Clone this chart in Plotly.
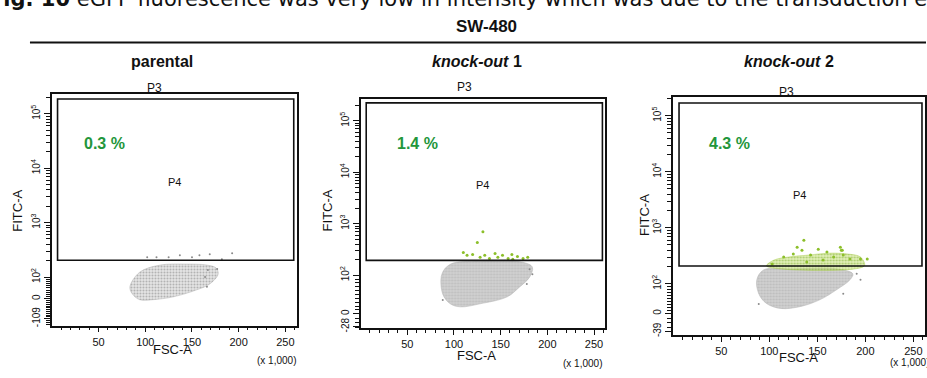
import numpy as np
import plotly.graph_objects as go

W, H = 927, 378

# ---------------- data ----------------
panel_titles = ["parental", "<i>knock-out</i> 1", "<i>knock-out</i> 2"]
positive_pct = ["0.3 %", "1.4 %", "4.3 %"]
fitc_axis_min = [-109, -28, -39]          # lowest labelled FITC value per plot
x_tick_vals = [50, 100, 150, 200, 250]    # FSC-A (x 1,000)

# P4 gate (FSC-A in thousands, FITC-A raw)
gate_fsc = [6, 259]
gate_fitc_top = [187000, 222000, 169000]
gate_fitc_low = [204, 194, 208]

# outline of the main (negative) population, FSC-A (x1000) / FITC-A
cloud_fsc = [
    [83.5, 94, 116, 144, 166, 176, 178, 169, 155, 130, 108, 94, 86],
    [87, 96, 128, 174, 184, 181, 170, 157, 128, 107, 96, 88],
    [87, 94, 125, 170, 187, 184, 170, 153, 133, 112, 97, 89],
]
cloud_fitc = [
    [55, 123, 166, 173, 166, 146, 113, 68, 41, 9, -5, -5, 23],
    [104, 163, 186, 178, 143, 95, 69, 44, 26, 18, 26, 51],
    [118, 177, 185, 185, 151, 118, 80, 47, 24, 17, 34, 67],
]

# scattered grey events
grey_fsc = [
    [102, 112, 137, 150, 169, 193, 182, 167, 164, 177, 166, 125, 158],
    [181, 184, 178, 88],
    [191, 195, 177, 89],
]
grey_fitc = [
    [231, 231, 251, 231, 262, 273, 212, 134, 100, 140, 55, 231, 251],
    [130, 104, 77, 36],
    [151, 118, 67, 32],
]

# FITC-positive (eGFP) events above the gate
green_fsc = [
    [],
    [110, 114, 120, 128, 133, 138, 144, 147, 152, 158, 162, 163, 168, 174, 179, 125, 131],
    [115, 125, 134, 143, 151, 160, 167, 175, 177, 184, 195, 103, 139, 156, 129, 174, 136, 176, 202],
]
green_fitc = [
    [],
    [277, 243, 253, 222, 243, 212, 265, 222, 243, 212, 253, 203, 232, 212, 222, 431, 701],
    [301, 340, 399, 326, 416, 368, 301, 399, 326, 277, 277, 226, 245, 266, 451, 451, 600, 399, 277],
]
# dense positive band just above the gate in knock-out 2
band_fsc = [97, 105, 120, 141, 162, 182, 195, 199]
band_fitc = [208, 266, 301, 326, 353, 340, 301, 208]

# ---------------- axis / layout settings ----------------
FSC_MAX = 262.144
fitc_axis_max = [231000, 265000, 216000]
fitc_axis_floor = [-147, -32, -48]
lin_decades = [0.40, 0.75, 0.53]          # display height of 0..100, in decades
neg_slope = [0.00334, 0.0089, 0.00813]    # decades per unit below zero
boxes = [(52, 95, 297, 329), (361, 100, 606, 332), (674, 98, 926, 339)]
FONT = "Liberation Sans, Arial, sans-serif"
GREEN_TXT = "#23963b"


def fitc_scale(v, i):
    """Log above 100, linear through zero below (biexponential-style display)."""
    v = np.atleast_1d(np.asarray(v, dtype=float))
    r, q = lin_decades[i], neg_slope[i]
    out = np.empty_like(v)
    hi = v >= 100
    mid = (v >= 0) & ~hi
    lo = v < 0
    out[hi] = np.log10(v[hi])
    out[mid] = 2 - r * (100 - v[mid]) / 100
    out[lo] = 2 - r + v[lo] * q
    return out


def px(x):
    return x / W


def py(y):
    return 1 - y / H


fig = go.Figure()
annotations = []
shapes = []

cloud_styles = [
    dict(bg="rgba(212,212,212,0.6)", fg="#7d7d7d", line="rgba(150,150,150,0.35)"),
    dict(bg="rgba(200,200,200,0.85)", fg="#a9a9a9", line="rgba(180,180,180,0.5)"),
    dict(bg="rgba(200,200,200,0.85)", fg="#a6a6a6", line="rgba(180,180,180,0.5)"),
]

for i in range(3):
    xa = "x" if i == 0 else f"x{i+1}"
    ya = "y" if i == 0 else f"y{i+1}"
    xk = "xaxis" if i == 0 else f"xaxis{i+1}"
    yk = "yaxis" if i == 0 else f"yaxis{i+1}"
    x0, y0, x1, y1 = boxes[i]
    st = cloud_styles[i]

    # main population
    cy = fitc_scale(cloud_fitc[i], i)
    fig.add_trace(go.Scatter(
        x=list(cloud_fsc[i]) + [cloud_fsc[i][0]], y=list(cy) + [cy[0]],
        mode="lines", fill="toself", xaxis=xa, yaxis=ya,
        line=dict(color=st["line"], width=1, shape="spline", smoothing=1.0),
        fillcolor=st["bg"],
        fillpattern=dict(shape=".", fgcolor=st["fg"], bgcolor=st["bg"], size=3, solidity=0.35),
        hoverinfo="skip", showlegend=False))

    # scattered grey events
    fig.add_trace(go.Scatter(
        x=grey_fsc[i], y=fitc_scale(grey_fitc[i], i), mode="markers", xaxis=xa, yaxis=ya,
        marker=dict(size=2, color="#8a8a8a"), hoverinfo="skip", showlegend=False))

    # dense positive band (knock-out 2)
    if i == 2:
        by = fitc_scale(band_fitc, i)
        fig.add_trace(go.Scatter(
            x=band_fsc + [band_fsc[0]], y=list(by) + [by[0]],
            mode="lines", fill="toself", xaxis=xa, yaxis=ya,
            line=dict(color="rgba(160,200,60,0.4)", width=1, shape="spline"),
            fillcolor="rgba(200,225,120,0.55)",
            fillpattern=dict(shape=".", fgcolor="#6fa61e", bgcolor="rgba(205,228,130,0.55)",
                             size=3, solidity=0.4),
            hoverinfo="skip", showlegend=False))

    if green_fsc[i]:
        fig.add_trace(go.Scatter(
            x=green_fsc[i], y=fitc_scale(green_fitc[i], i), mode="markers", xaxis=xa, yaxis=ya,
            marker=dict(size=3, color="#8cbf2a"), hoverinfo="skip", showlegend=False))

    # P4 gate
    shapes.append(dict(type="rect", xref=xa, yref=ya,
                       x0=gate_fsc[0], x1=gate_fsc[1],
                       y0=float(fitc_scale(gate_fitc_low[i], i)[0]),
                       y1=float(fitc_scale(gate_fitc_top[i], i)[0]),
                       line=dict(color="#111111", width=1.6)))

    # axes
    y_major_raw = [fitc_axis_min[i], 0, 1e2, 1e3, 1e4, 1e5]
    y_major_txt = [str(fitc_axis_min[i]), "0", "10<sup>2</sup>", "10<sup>3</sup>",
                   "10<sup>4</sup>", "10<sup>5</sup>"]
    y_minor_raw = ([m * 10 ** k for k in (2, 3, 4) for m in range(2, 10)] + [2e5]
                   + list(range(10, 100, 10))
                   + [v for v in range(-10, -200, -10)
                      if v > fitc_axis_floor[i] and v != fitc_axis_min[i]])
    fig.layout[xk] = dict(
        domain=[px(x0), px(x1)], anchor=ya, range=[0, FSC_MAX],
        showline=True, linecolor="#111111", linewidth=1.6, mirror=True,
        ticks="outside", ticklen=5, tickwidth=1.3, tickcolor="#111111",
        tickvals=x_tick_vals, ticktext=[str(v) for v in x_tick_vals],
        tickfont=dict(size=11, color="#111111", family=FONT),
        minor=dict(tickvals=[v for v in range(10, 261, 10) if v % 50],
                   ticks="outside", ticklen=3, tickwidth=1.2, tickcolor="#111111"),
        showgrid=False, zeroline=False, fixedrange=True)
    fig.layout[yk] = dict(
        domain=[py(y1), py(y0)], anchor=xa,
        range=[float(fitc_scale(fitc_axis_floor[i], i)[0]),
               float(fitc_scale(fitc_axis_max[i], i)[0])],
        showline=True, linecolor="#111111", linewidth=1.6, mirror=True,
        ticks="outside", ticklen=6, tickwidth=1.3, tickcolor="#111111",
        tickvals=[float(v) for v in fitc_scale(y_major_raw, i)], ticktext=y_major_txt,
        tickangle=-90, tickfont=dict(size=10, color="#111111", family=FONT),
        minor=dict(tickvals=[float(v) for v in fitc_scale(y_minor_raw, i)],
                   ticks="outside", ticklen=4, tickwidth=1, tickcolor="#111111"),
        showgrid=False, zeroline=False, fixedrange=True)

# panel text (pixel positions)
title_xy = [(162, 62), (478, 62), (790, 62)]
p3_xy = [(155, 89), (465, 88), (787, 93)]
p4_xy = [(175, 184), (483, 187), (800, 197)]
pct_xy = [(105, 145), (418, 145), (730, 145)]
fitc_xy = [(18, 213), (328, 213), (645, 217)]
fsc_xy = [(173, 353), (477, 359), (799, 361)]
unit_xy = [(277, 364), (583, 367), (910, 366)]


def txt(x, y, text, size, family=FONT, color="#111111", angle=0, xanchor="center"):
    annotations.append(dict(x=px(x), y=py(y), xref="paper", yref="paper", text=text,
                            showarrow=False, xanchor=xanchor, yanchor="middle",
                            textangle=angle, font=dict(size=size, family=family, color=color)))


for i in range(3):
    txt(*title_xy[i], f"<b>{panel_titles[i]}</b>", 16)
    txt(*p3_xy[i], "P3", 12)
    txt(*p4_xy[i], "P4", 11)
    txt(*pct_xy[i], f"<b>{positive_pct[i]}</b>", 16, color=GREEN_TXT)
    txt(*fitc_xy[i], "FITC-A", 13, angle=-90)
    txt(*fsc_xy[i], "FSC-A", 13)
    txt(*unit_xy[i], "(x 1,000)", 10)

txt(487, 27, "<b>SW-480</b>", 17)
txt(-13, -1, "<b>Fig. 10</b> eGFP fluorescence was very low in intensity which was due to the transduction efficiency",
    21, family="DejaVu Sans, Liberation Sans, sans-serif", xanchor="left")

shapes.append(dict(type="line", xref="paper", yref="paper",
                   x0=px(30), x1=px(927), y0=py(43), y1=py(43),
                   line=dict(color="#111111", width=2)))

fig.update_layout(
    width=W, height=H, margin=dict(l=0, r=0, t=0, b=0),
    paper_bgcolor="white", plot_bgcolor="rgba(0,0,0,0)",
    annotations=annotations, shapes=shapes, showlegend=False,
)

fig.write_html("out.html")
